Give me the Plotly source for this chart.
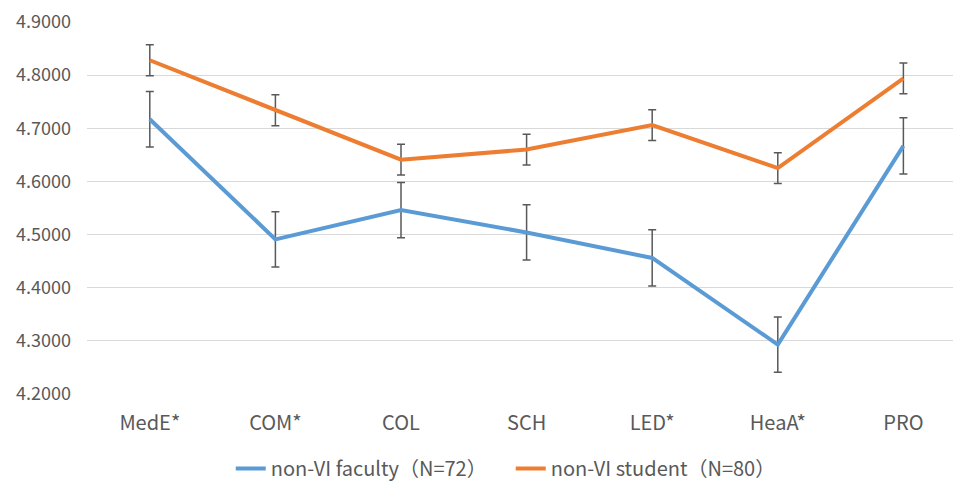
import plotly.graph_objects as go

categories = ["MedE*", "COM*", "COL", "SCH", "LED*", "HeaA*", "PRO"]
faculty_mean = [4.717, 4.491, 4.546, 4.504, 4.456, 4.293, 4.667]
faculty_err = [0.052, 0.052, 0.052, 0.052, 0.053, 0.052, 0.053]
student_mean = [4.828, 4.734, 4.641, 4.660, 4.706, 4.625, 4.794]
student_err = [0.029, 0.029, 0.029, 0.029, 0.029, 0.029, 0.029]
y_ticks = [4.2, 4.3, 4.4, 4.5, 4.6, 4.7, 4.8, 4.9]
series_names = ["non-VI faculty（N=72）", "non-VI student（N=80）"]

FONT = "Noto Sans CJK SC"
GRAY = "#595959"

fig = go.Figure()
for name, ys, errs, color in [
    (series_names[0], faculty_mean, faculty_err, "#5B9BD5"),
    (series_names[1], student_mean, student_err, "#ED7D31"),
]:
    fig.add_trace(go.Scatter(
        x=categories, y=ys, name=name, mode="lines",
        line=dict(color=color, width=4),
        error_y=dict(type="data", array=errs, visible=True,
                     color=GRAY, thickness=1.5, width=4),
    ))

fig.update_layout(
    width=953, height=483,
    paper_bgcolor="white", plot_bgcolor="white",
    margin=dict(l=87, r=0, t=22, b=89, autoexpand=False),
    font=dict(family=FONT, size=20, color=GRAY),
    showlegend=True,
    legend=dict(orientation="h", x=0.166, xanchor="left", y=-0.2, yanchor="middle",
                font=dict(size=20, color=GRAY), traceorder="normal",
                entrywidth=235),
    xaxis=dict(type="category", range=[-0.5, 6.395], showgrid=False, showline=False,
               zeroline=False, ticks="", tickfont=dict(size=20, color=GRAY),
               ticklabelstandoff=15, automargin=False),
    yaxis=dict(range=[4.2, 4.9], tickvals=y_ticks, tickformat=".4f",
               showgrid=True, gridcolor="#D9D9D9", gridwidth=1.2,
               zeroline=False, showline=False, ticks="",
               tickfont=dict(size=18, color=GRAY), ticklabelstandoff=15,
               automargin=False),
)

fig.write_html("out.html", config={"displayModeBar": False},
               post_script="document.body.style.margin='0';document.body.style.overflow='hidden';")
